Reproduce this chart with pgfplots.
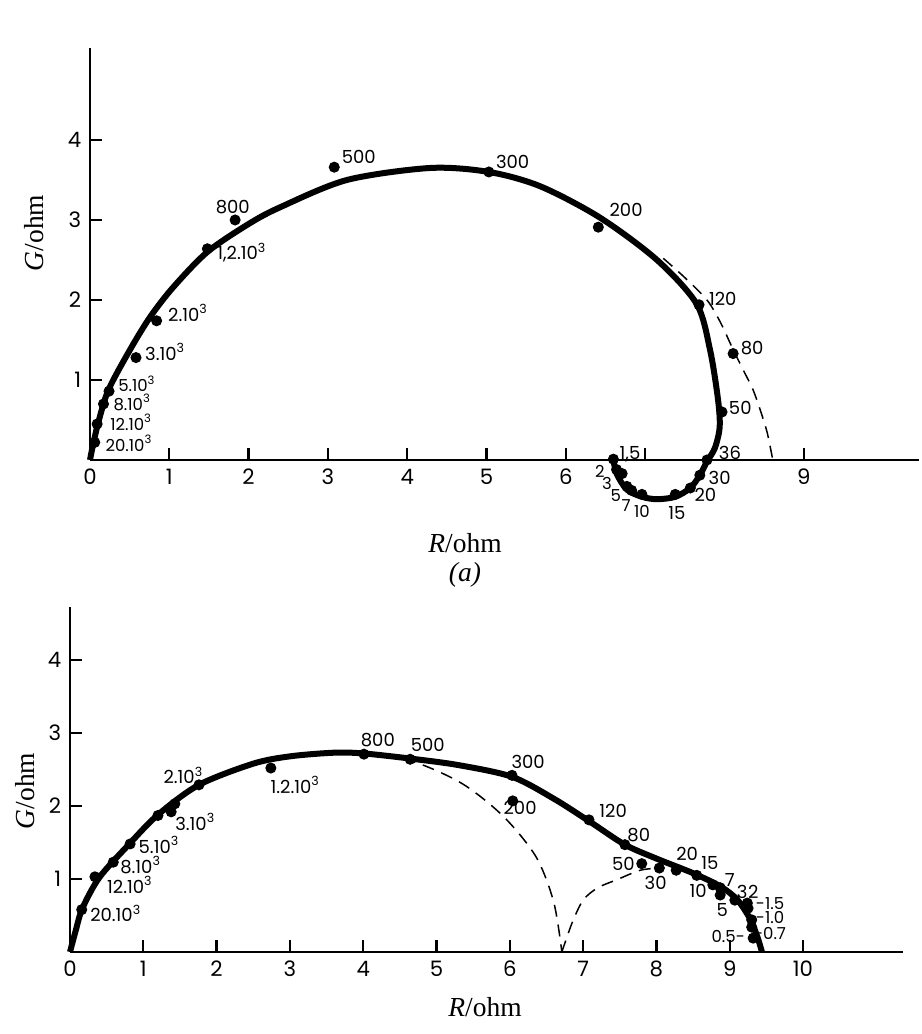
\documentclass[border=0pt]{standalone}
\usepackage{fontspec}
\setmainfont{Liberation Serif}
\newfontfamily\tf{Poppins}
\usepackage{pgfplots}
\pgfplotsset{compat=1.18}
\pgfplotsset{myax/.style={
  axis lines=left, axis line style={-, line width=0.9pt},
  tick style={line width=0.9pt, black}, tick align=inside,
  major tick length=4.8pt, clip=false, enlargelimits=false,
  anchor=south west, xmin=0, ymin=0,
  ticklabel style={font=\tf\fontsize{8.5}{9}\selectfont},
  /pgf/number format/assume math mode=true,
  minor tick num=0}}
\newcommand{\lab}[3][center]{\node[font=\tf\fontsize{7.2}{7.5}\selectfont, anchor=#1, inner sep=0pt] at (axis cs:#2) {#3};}
\newcommand{\slab}[3][center]{\node[font=\tf\fontsize{6.6}{7}\selectfont, anchor=#1, inner sep=0pt] at (axis cs:#2) {#3};}
\begin{document}
\begin{tikzpicture}[x=0.4pt,y=0.4pt]
\useasboundingbox (0,0) rectangle (921,1034);
% ---------- panel (a)
\begin{axis}[myax, at={(36pt,229.6pt)}, x=31.72pt, y=32pt, xmax=10.45, ymax=5.15,
  xtick={0,1,2,3,4,5,6,7,9}, xticklabels={0,1,2,3,4,5,6,,9},
  ytick={1,2,3,4}]
\addplot[line width=2.4pt, smooth, tension=0.5] coordinates {
(0,0) (0.03,0.15) (0.1,0.45) (0.23,0.87) (0.5,1.37) (0.76,1.79) (1.05,2.16) (1.48,2.6) (2.0,2.95) (2.4,3.16) (3.24,3.5) (4.29,3.65) (5.03,3.6) (5.68,3.42) (6.43,3.03) (7.15,2.5) (7.65,1.95) (7.82,1.37) (7.92,0.75) (7.94,0.41) (7.88,0.15) (7.78,-0.02) (7.69,-0.19) (7.57,-0.35) (7.38,-0.46) (7.15,-0.49) (6.96,-0.46) (6.77,-0.37) (6.64,-0.17) (6.60,0.01)};
\addplot[line width=0.6pt, dash pattern=on 4.8pt off 3.2pt, smooth] coordinates {
(7.23,2.52) (7.5,2.28) (7.78,2.0) (7.95,1.72) (8.11,1.38) (8.25,1.1) (8.36,0.88) (8.46,0.6) (8.54,0.34) (8.61,0)};
\addplot[only marks, mark=*, mark size=2pt] coordinates {
(3.08,3.66) (5.03,3.60) (1.83,3.00) (1.48,2.64) (6.41,2.91) (7.68,1.94) (8.11,1.33) (7.97,0.60) (7.78,0.0) (7.69,-0.19) (7.57,-0.35) (7.38,-0.43) (6.96,-0.43) (6.83,-0.38) (6.77,-0.33) (6.71,-0.17) (6.64,-0.12) (6.60,0.01) (0.84,1.74) (0.58,1.28) (0.24,0.86) (0.17,0.70) (0.09,0.45) (0.06,0.22)};
\lab{3.39,3.79}{500}
\lab{5.33,3.73}{300}
\lab{1.80,3.16}{800}
\lab[west]{1.60,2.59}{1,2.10\textsuperscript{3}}
\lab{6.76,3.13}{200}
\lab{7.98,2.01}{120}
\lab{8.35,1.40}{80}
\lab{8.20,0.65}{50}
\lab{8.07,0.09}{36}
\lab{7.94,-0.22}{30}
\lab{7.76,-0.44}{20}
\lab{7.40,-0.66}{15}
\slab{6.96,-0.64}{10}
\slab{6.76,-0.57}{7}
\slab{6.63,-0.44}{5}
\slab{6.52,-0.29}{3}
\slab{6.43,-0.14}{2}
\lab{6.81,0.07}{1,5}
\lab[west]{0.98,1.84}{2.10\textsuperscript{3}}
\lab[west]{0.69,1.35}{3.10\textsuperscript{3}}
\slab[west]{0.35,0.95}{5.10\textsuperscript{3}}
\slab[west]{0.29,0.72}{8.10\textsuperscript{3}}
\slab[west]{0.25,0.47}{12.10\textsuperscript{3}}
\slab[west]{0.19,0.21}{20.10\textsuperscript{3}}
\end{axis}
% ---------- panel (b)
\begin{axis}[myax, at={(28pt,32.8pt)}, x=29.32pt, y=29.2pt, xmax=11.36, ymax=4.73,
  xtick={0,1,2,3,4,5,6,7,8,9,10}, ytick={1,2,3,4}]
\addplot[line width=2.4pt, smooth, tension=0.5] coordinates {
(0,0) (0.08,0.3) (0.17,0.6) (0.4,1.02) (0.8,1.47) (1.2,1.88) (1.76,2.29) (2.5,2.58) (3.0,2.68) (3.6,2.73) (4.0,2.72) (4.64,2.65) (5.3,2.56) (6.03,2.4) (6.6,2.1) (7.1,1.78) (7.57,1.47) (8.0,1.28) (8.5,1.08) (8.87,0.9) (9.1,0.72) (9.28,0.45) (9.38,0.2) (9.44,0)};
\addplot[line width=0.6pt, dash pattern=on 4.8pt off 3.2pt, smooth] coordinates {
(4.01,2.71) (4.7,2.6) (5.36,2.3) (5.92,1.85) (6.36,1.3) (6.6,0.68) (6.71,0)};
\addplot[line width=0.6pt, dash pattern=on 4.8pt off 3.2pt, smooth] coordinates {
(6.71,0) (6.85,0.4) (7.0,0.71) (7.2,0.88) (7.46,0.99) (7.78,1.12) (8.04,1.15)};
\addplot[only marks, mark=*, mark size=2pt] coordinates {
(0.16,0.58) (0.34,1.03) (0.59,1.23) (0.82,1.48) (1.20,1.87) (1.38,1.92) (1.43,2.03) (1.76,2.29) (2.74,2.52) (4.01,2.71) (4.64,2.64) (6.03,2.42) (6.04,2.07) (7.08,1.81) (7.57,1.47) (7.80,1.21) (8.04,1.15) (8.27,1.12) (8.55,1.05) (8.77,0.92) (8.87,0.88) (8.87,0.78) (9.07,0.71) (9.24,0.67) (9.25,0.60) (9.30,0.44) (9.30,0.34) (9.32,0.19)};
\lab[west]{0.27,0.53}{20.10\textsuperscript{3}}
\lab[west]{0.50,0.92}{12.10\textsuperscript{3}}
\lab[west]{0.68,1.19}{8.10\textsuperscript{3}}
\lab[west]{0.93,1.47}{5.10\textsuperscript{3}}
\lab[west]{1.43,1.78}{3.10\textsuperscript{3}}
\lab[west]{1.27,2.42}{2.10\textsuperscript{3}}
\lab[west]{2.73,2.29}{1.2.10\textsuperscript{3}}
\lab{4.20,2.90}{800}
\lab{4.88,2.84}{500}
\lab{6.25,2.60}{300}
\lab{6.14,1.97}{200}
\lab{7.41,1.93}{120}
\lab{7.76,1.60}{80}
\lab{7.55,1.21}{50}
\lab{7.99,0.95}{30}
\lab{8.42,1.34}{20}
\lab{8.73,1.22}{15}
\lab{8.57,0.84}{10}
\lab{9.00,0.99}{7}
\lab{8.90,0.58}{5}
\lab{9.17,0.82}{3}
\lab{9.32,0.82}{2}
\slab{9.55,0.67}{-1.5}
\slab{9.55,0.47}{-1.0}
\slab{9.55,0.26}{-0.7}
\slab{8.98,0.21}{0.5-}
\end{axis}
% ---------- axis titles
\node[rotate=90, font=\fontsize{11}{12}\selectfont] at (34,1034-233) {\textit{G}/ohm};
\node[rotate=90, font=\fontsize{11}{12}\selectfont] at (25,1034-791) {\textit{G}/ohm};
\node[font=\fontsize{11}{12}\selectfont] at (465,1034-543) {\textit{R}/ohm};
\node[font=\fontsize{11}{12}\selectfont] at (465,1034-575) {\textit{(a)}};
\node[font=\fontsize{11}{12}\selectfont] at (485,1034-1007) {\textit{R}/ohm};
\end{tikzpicture}
\end{document}
